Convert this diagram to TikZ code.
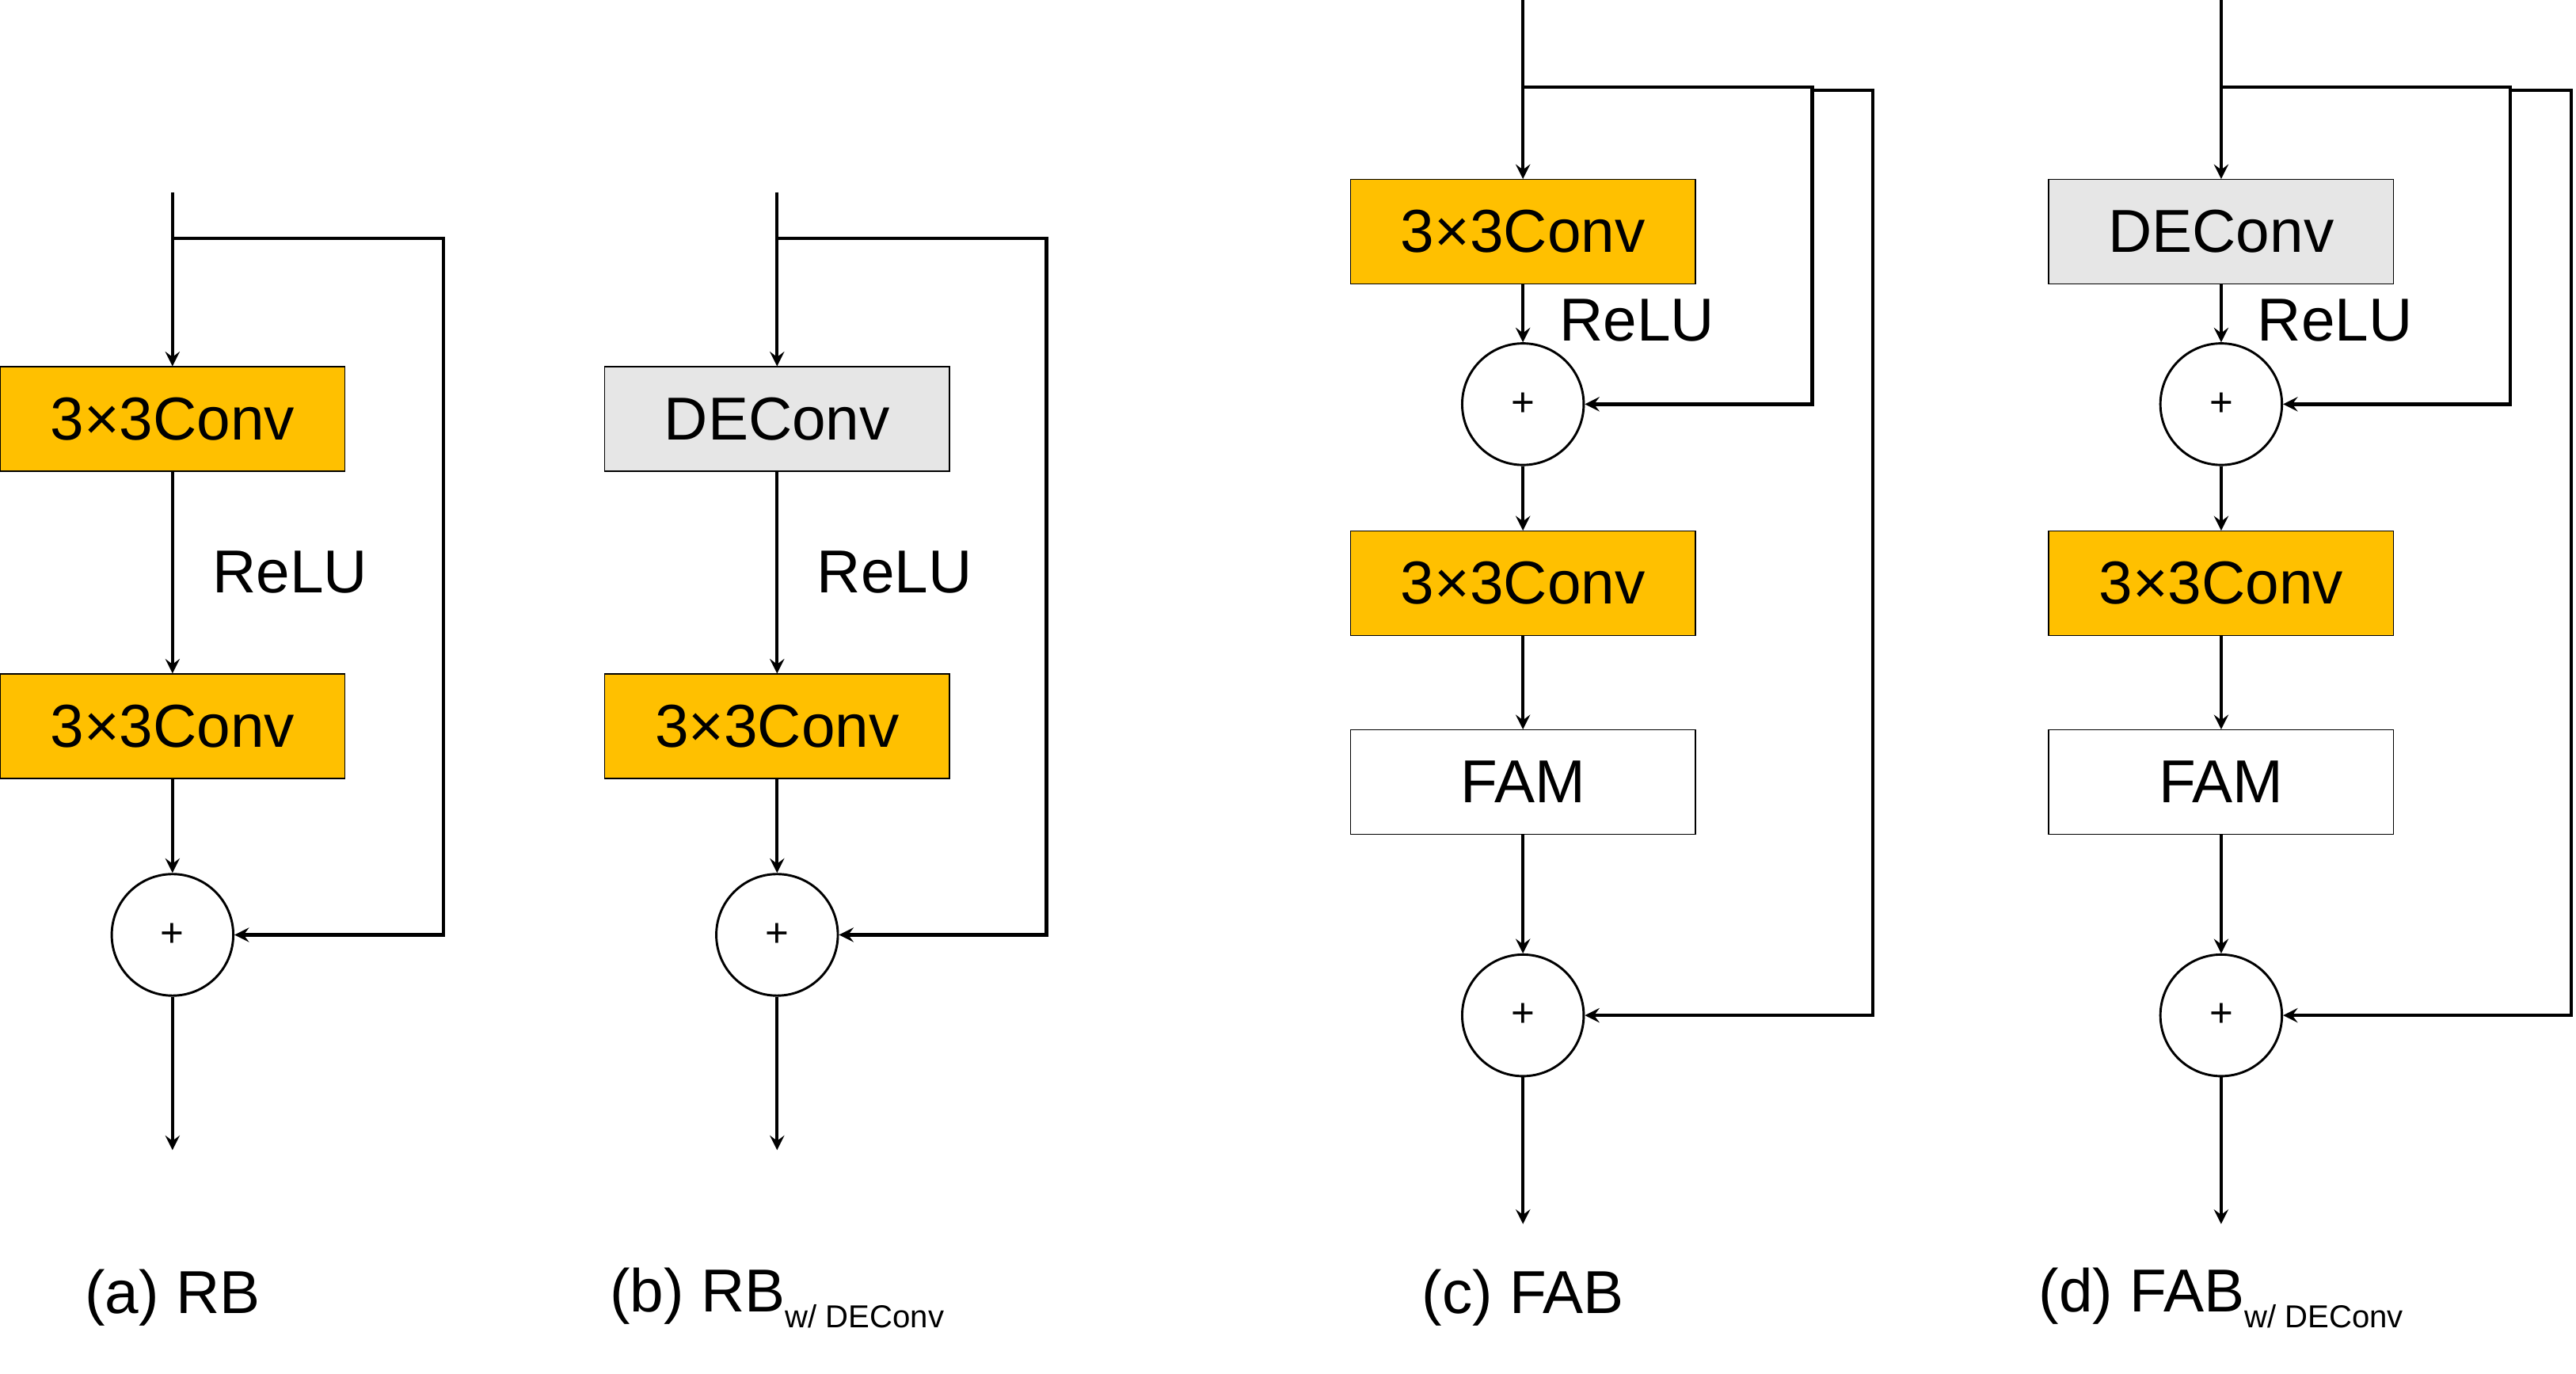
\documentclass[tikz,border=0pt]{standalone}
\usepackage{fontspec}
\setmainfont{Liberation Sans}
\usetikzlibrary{positioning}
\definecolor{convorange}{RGB}{255,192,0}
\definecolor{decgray}{RGB}{230,230,230}
\tikzset{
    block/.style = {draw, thin, minimum width=4.2cm, minimum height=1.27cm, font=\fontsize{21}{24}\selectfont, inner sep=0pt},
    conv/.style = {block, fill=convorange},
    deconv/.style = {block, fill=decgray},
    sum/.style = {draw, thick, circle, minimum size=1.48cm, font=\fontsize{14}{16}\selectfont, inner sep=0pt},
    flow/.style = {->, very thick, >=stealth},
    lab/.style = {font=\fontsize{21}{24}\selectfont},
}
\newcommand{\wsub}{\raisebox{-0.5ex}{\fontsize{11}{12}\selectfont w/ DEConv}}

\begin{document}
\begin{tikzpicture}[x=0.02cm, y=-0.02cm]
    \useasboundingbox (0,0) rectangle (1568,836);

    % (a) RB
    \coordinate (aIn) at (105,117);
    \coordinate (aTap) at (105,145);
    \node[conv] (aC1) at (105,255) {3×3Conv};
    \node[conv] (aC2) at (105,442) {3×3Conv};
    \node[sum] (aS) at (105,569) {+};
    \coordinate (aOut) at (105,700);
    \draw[flow] (aIn) -- (aC1);
    \draw[flow] (aC1) -- (aC2) node[midway, right=0.35cm, lab] {ReLU};
    \draw[flow] (aC2) -- (aS);
    \draw[flow] (aS) -- (aOut);
    \draw[flow] (aTap) -| (270,569) -- (aS);
    \node[lab] (aL) at (105,790) {(a) RB};

    % (b) RB w/ DEConv
    \coordinate (bIn) at (473,117);
    \coordinate (bTap) at (473,145);
    \node[deconv] (bC1) at (473,255) {DEConv};
    \node[conv] (bC2) at (473,442) {3×3Conv};
    \node[sum] (bS) at (473,569) {+};
    \coordinate (bOut) at (473,700);
    \draw[flow] (bIn) -- (bC1);
    \draw[flow] (bC1) -- (bC2) node[midway, right=0.35cm, lab] {ReLU};
    \draw[flow] (bC2) -- (bS);
    \draw[flow] (bS) -- (bOut);
    \draw[flow] (bTap) -| (637,569) -- (bS);
    \node[lab] (bL) at (473,790) {(b) RB\wsub};

    % (c) FAB
    \coordinate (cIn) at (927,0);
    \coordinate (cTap) at (927,53);
    \node[conv] (cC1) at (927,141) {3×3Conv};
    \node[sum] (cS1) at (927,246) {+};
    \node[conv] (cC2) at (927,355) {3×3Conv};
    \node[block] (cF) at (927,476) {FAM};
    \node[sum] (cS2) at (927,618) {+};
    \coordinate (cOut) at (927,745);
    \draw[flow] (cIn) -- (cC1);
    \draw[flow] (cC1) -- (cS1);
    \node[lab, anchor=west] at (943,195) {ReLU};
    \draw[flow] (cS1) -- (cC2);
    \draw[flow] (cC2) -- (cF);
    \draw[flow] (cF) -- (cS2);
    \draw[flow] (cS2) -- (cOut);
    \draw[flow] (cTap) -| (1103,246) -- (cS1);
    \draw[flow] (1103,55) -| (1140,618) -- (cS2);
    \node[lab] (cL) at (927,790) {(c) FAB};

    % (d) FAB w/ DEConv
    \coordinate (dIn) at (1352,0);
    \coordinate (dTap) at (1352,53);
    \node[deconv] (dC1) at (1352,141) {DEConv};
    \node[sum] (dS1) at (1352,246) {+};
    \node[conv] (dC2) at (1352,355) {3×3Conv};
    \node[block] (dF) at (1352,476) {FAM};
    \node[sum] (dS2) at (1352,618) {+};
    \coordinate (dOut) at (1352,745);
    \draw[flow] (dIn) -- (dC1);
    \draw[flow] (dC1) -- (dS1);
    \node[lab, anchor=west] at (1368,195) {ReLU};
    \draw[flow] (dS1) -- (dC2);
    \draw[flow] (dC2) -- (dF);
    \draw[flow] (dF) -- (dS2);
    \draw[flow] (dS2) -- (dOut);
    \draw[flow] (dTap) -| (1528,246) -- (dS1);
    \draw[flow] (1528,55) -| (1565,618) -- (dS2);
    \node[lab] (dL) at (1352,790) {(d) FAB\wsub};
\end{tikzpicture}
\end{document}
